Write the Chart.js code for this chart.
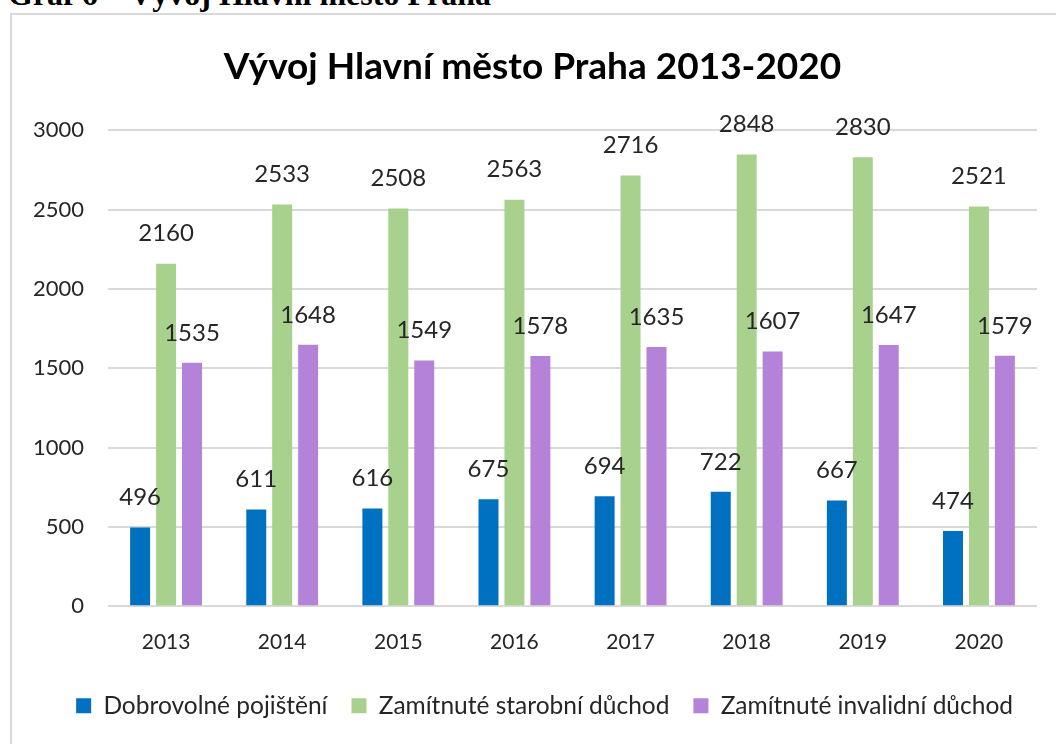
<!DOCTYPE html>
<html>
<head>
<meta charset="utf-8">
<script src="https://cdn.jsdelivr.net/npm/chart.js@4"></script>
<style>
  html, body { margin: 0; padding: 0; background: #fff; overflow: hidden; }
  #caption {
    position: absolute; left: 8px; top: -24px;
    font: bold 32px "Liberation Serif", serif; color: #000; white-space: nowrap;
  }
  #frame {
    position: absolute; left: 10px; top: 13px; width: 1060px; height: 740px;
    border: 2px solid #d9d9d9; box-sizing: border-box;
  }
  #wrap { position: absolute; left: 0; top: 0; width: 1056px; height: 744px; }
</style>
</head>
<body>
<div id="caption">Graf 6 – Vývoj Hlavní město Praha</div>
<div id="frame"></div>
<div id="wrap"><canvas id="chart"></canvas></div>
<script>
const years = ["2013", "2014", "2015", "2016", "2017", "2018", "2019", "2020"];
const dobrovolne = [496, 611, 616, 675, 694, 722, 667, 474];
const starobni = [2160, 2533, 2508, 2563, 2716, 2848, 2830, 2521];
const invalidni = [1535, 1648, 1549, 1578, 1635, 1607, 1647, 1579];

const textColor = "#262626";

// draws the value above every bar
const barLabels = {
  id: "barLabels",
  afterDatasetsDraw(chart) {
    const c = chart.ctx;
    c.save();
    c.font = "24px Lato";
    c.fillStyle = textColor;
    c.textAlign = "center";
    c.textBaseline = "bottom";
    chart.data.datasets.forEach((ds, i) => {
      chart.getDatasetMeta(i).data.forEach((bar, j) => {
        c.fillText(ds.data[j], bar.x, bar.y - 18);
      });
    });
    c.restore();
  }
};

new Chart(document.getElementById("chart"), {
  type: "bar",
  data: {
    labels: years,
    datasets: [
      { label: "Dobrovolné pojištění", data: dobrovolne, backgroundColor: "#0070c0" },
      { label: "Zamítnuté starobní důchod", data: starobni, backgroundColor: "#a9d18e" },
      { label: "Zamítnuté invalidní důchod", data: invalidni, backgroundColor: "#b482d8" }
    ]
  },
  options: {
    responsive: true,
    maintainAspectRatio: false,
    animation: false,
    categoryPercentage: 0.67,
    barPercentage: 0.77,
    layout: { padding: { left: 28, right: 19, top: 0, bottom: 16 } },
    plugins: {
      title: {
        display: true,
        text: "Vývoj Hlavní město Praha 2013-2020",
        color: "#000",
        font: { family: "Lato", size: 37, weight: "bold" },
        padding: { top: 45, bottom: 41 }
      },
      legend: {
        position: "bottom",
        align: "end",
        labels: {
          color: textColor,
          font: { family: "Lato", size: 24.5 },
          boxWidth: 15,
          boxHeight: 15,
          padding: 24
        }
      },
      tooltip: { enabled: false }
    },
    scales: {
      x: {
        grid: { display: false },
        border: { display: false },
        ticks: { color: textColor, font: { family: "Lato", size: 21 }, padding: 15 }
      },
      y: {
        min: 0,
        max: 3000,
        afterFit: scale => { scale.width = 80; },
        ticks: {
          stepSize: 500,
          color: textColor,
          font: { family: "Lato", size: 22 },
          padding: 24,
          callback: v => String(v)
        },
        grid: { color: "#d9d9d9", lineWidth: 2, drawTicks: false },
        border: { display: false }
      }
    }
  },
  plugins: [barLabels]
});
</script>
</body>
</html>
